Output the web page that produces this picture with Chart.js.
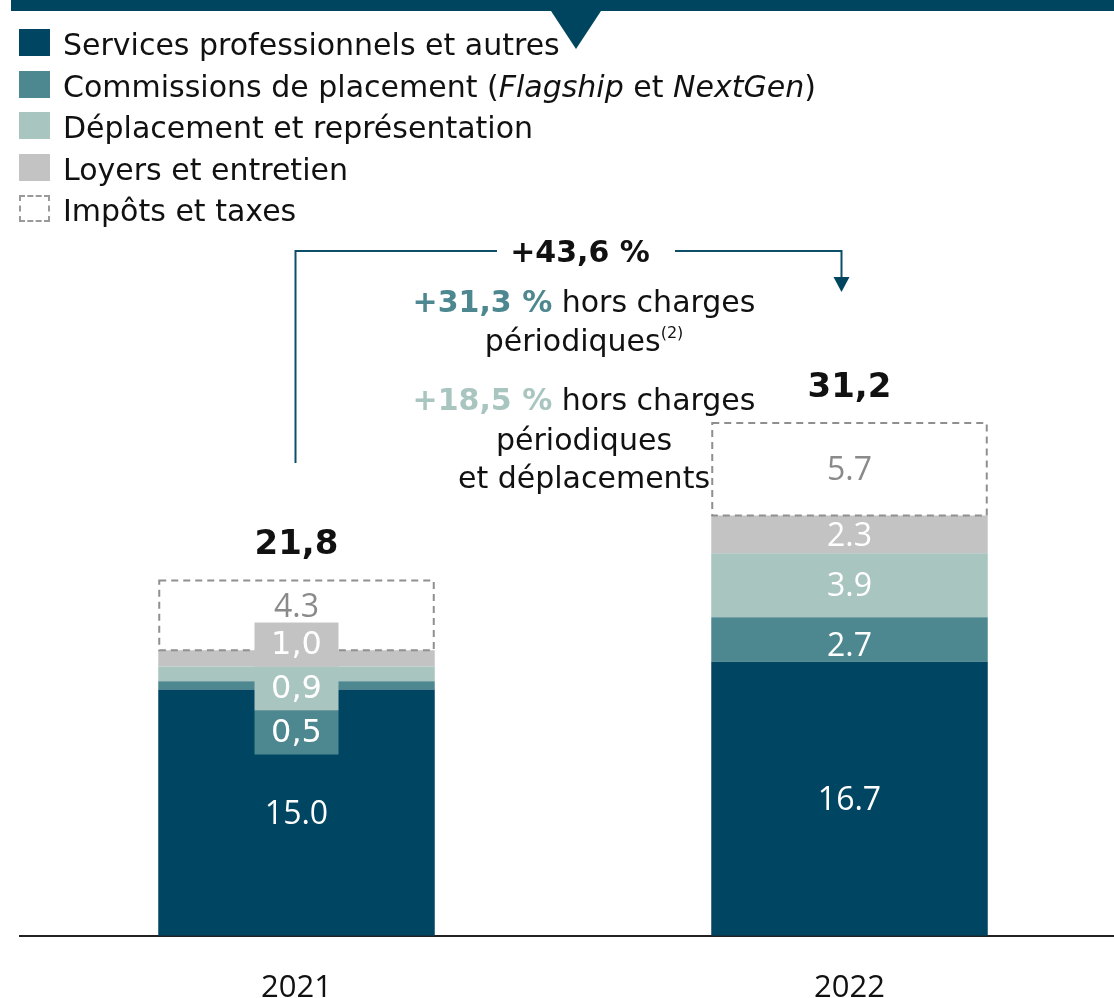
<!DOCTYPE html>
<html lang="fr">
<head>
<meta charset="utf-8">
<script src="https://cdn.jsdelivr.net/npm/chart.js@4.4.1/dist/chart.umd.min.js"></script>
<style>
  html, body { margin: 0; padding: 0; background: #fff; }
  #page { position: relative; width: 1114px; height: 998px; overflow: hidden; font-family: "DejaVu Sans", sans-serif; color: #111; }
  #chart { position: absolute; left: 0; top: 0; }
  .band { position: absolute; left: 11px; top: 0; width: 1103px; height: 11px; background: #00455f; }
  .tri { position: absolute; left: 551px; top: 11px; width: 0; height: 0;
         border-left: 25px solid transparent; border-right: 25px solid transparent; border-top: 38px solid #00455f; }
  .legend { position: absolute; left: 19px; top: 27px; }
  .legend .item { position: relative; height: 41.5px; line-height: 36px; padding-left: 44px; font-size: 30px; white-space: nowrap; }
  .legend .sw { position: absolute; left: 0; top: 2px; width: 31px; height: 27px; box-sizing: border-box; }
  .note { position: absolute; left: 284px; width: 600px; text-align: center; font-size: 30px; line-height: 36px; white-space: nowrap; }
  .note b.c1 { color: #4d878f; }
  .note b.c2 { color: #a9c5c0; }
  .note sup { font-size: 16px; vertical-align: 13px; line-height: 0; }
  .growth { position: absolute; left: 480px; width: 200px; top: 234px; text-align: center; font-size: 30px; font-weight: bold; line-height: 36px; }
</style>
</head>
<body>
<div id="page">
  <canvas id="chart" width="1130" height="1041"></canvas>
  <div class="band"></div>
  <div class="tri"></div>
  <div class="legend" id="legend"></div>
  <div class="growth">+43,6 %</div>
  <div class="note" style="top:284px"><b class="c1">+31,3 %</b> hors charges</div>
  <div class="note" style="top:323px">périodiques<sup>(2)</sup></div>
  <div class="note" style="top:382px"><b class="c2">+18,5 %</b> hors charges</div>
  <div class="note" style="top:422px">périodiques</div>
  <div class="note" style="top:460px">et déplacements</div>
</div>
<script>
const years = ["2021", "2022"];
const services = [15.0, 16.7];
const commissions = [0.5, 2.7];
const deplacement = [0.9, 3.9];
const loyers = [1.0, 2.3];
const impots = [4.3, 5.7];
const totals = [21.8, 31.2];

const seriesNames = [
  "Services professionnels et autres",
  "Commissions de placement (<i>Flagship</i> et <i>NextGen</i>)",
  "Déplacement et représentation",
  "Loyers et entretien",
  "Impôts et taxes",
];
const seriesData = [services, commissions, deplacement, loyers, impots];
const seriesColors = ["#004562", "#4d878f", "#a9c5c0", "#c3c3c3", "rgba(255,255,255,0)"];
const labelColors = ["#fff", "#fff", "#fff", "#fff", "#8a8a8a"];

// legend
const legendEl = document.getElementById("legend");
seriesNames.forEach((name, i) => {
  const item = document.createElement("div");
  item.className = "item";
  const sw = i === 4
    ? '<span class="sw" style="border:2px dashed #9a9a9a"></span>'
    : '<span class="sw" style="background:' + seriesColors[i] + '"></span>';
  item.innerHTML = sw + name;
  legendEl.appendChild(item);
});

const decor = {
  id: "decor",
  afterDatasetsDraw(chart) {
    const ctx = chart.ctx;
    const taxMeta = chart.getDatasetMeta(4);
    ctx.save();

    // dashed outline for taxes
    taxMeta.data.forEach((bar) => {
      ctx.setLineDash([7, 5]);
      ctx.strokeStyle = "#8f8f8f";
      ctx.lineWidth = 2;
      ctx.strokeRect(bar.x - bar.width / 2 + 1, bar.y + 1, bar.width - 2, bar.base - bar.y - 1);
    });
    ctx.setLineDash([]);

    ctx.textAlign = "center";
    ctx.textBaseline = "middle";

    years.forEach((yr, j) => {
      const small = [];
      let calloutTop = null;
      for (let i = 0; i < 4; i++) {
        const bar = chart.getDatasetMeta(i).data[j];
        if (bar.base - bar.y < 30) small.push(i);
      }
      if (small.length) {
        const svcBar = chart.getDatasetMeta(0).data[j];
        let bottom = svcBar.y + 65;
        small.forEach((i) => {
          const top = bottom - 44;
          ctx.fillStyle = seriesColors[i];
          ctx.fillRect(svcBar.x - 42, top, 84, 44);
          ctx.fillStyle = "#fff";
          ctx.font = "32px 'DejaVu Sans'";
          ctx.fillText(seriesData[i][j].toFixed(1).replace(".", ","), svcBar.x, top + 23);
          bottom = top;
        });
        calloutTop = bottom;
      }
      for (let i = 0; i < 5; i++) {
        if (small.includes(i)) continue;
        const bar = chart.getDatasetMeta(i).data[j];
        let y = (bar.y + bar.base) / 2;
        if (i === 4 && calloutTop !== null) y = Math.min(y, calloutTop - 17);
        if (i === 1) y += 5;
        ctx.fillStyle = labelColors[i];
        ctx.font = "32px 'Open Sans'";
        ctx.fillText(seriesData[i][j].toFixed(1), bar.x, y + 2);
      }
      // totals
      const topBar = taxMeta.data[j];
      ctx.fillStyle = "#111";
      ctx.font = "bold 34px 'DejaVu Sans'";
      ctx.fillText(totals[j].toFixed(1).replace(".", ","), topBar.x, topBar.y - 34);
    });

    // growth bracket
    const x0 = taxMeta.data[0].x - 1;
    const x1 = taxMeta.data[1].x - 8;
    ctx.strokeStyle = "#0d4f69";
    ctx.lineWidth = 2;
    ctx.beginPath();
    ctx.moveTo(x0, 463);
    ctx.lineTo(x0, 251);
    ctx.lineTo(497, 251);
    ctx.moveTo(675, 251);
    ctx.lineTo(x1, 251);
    ctx.lineTo(x1, 278);
    ctx.stroke();
    ctx.fillStyle = "#00455f";
    ctx.beginPath();
    ctx.moveTo(x1 - 8, 277);
    ctx.lineTo(x1 + 8, 277);
    ctx.lineTo(x1, 292);
    ctx.closePath();
    ctx.fill();
    ctx.restore();
  },
};

new Chart(document.getElementById("chart"), {
  type: "bar",
  data: {
    labels: years,
    datasets: seriesData.map((d, i) => ({
      label: seriesNames[i],
      data: d,
      backgroundColor: seriesColors[i],
      borderWidth: 0,
      barPercentage: 0.5,
      categoryPercentage: 1,
    })),
  },
  options: {
    responsive: false,
    animation: false,
    layout: { padding: { left: 20, right: 4, top: 0, bottom: 0 } },
    plugins: {
      legend: { display: false },
      tooltip: { enabled: false },
    },
    scales: {
      x: {
        stacked: true,
        grid: { display: false, drawTicks: false },
        border: { display: true, color: "#222", width: 2 },
        ticks: { color: "#111", font: { family: "Open Sans", size: 31 }, padding: 34 },
      },
      y: { stacked: true, display: false, min: 0, max: 57 },
    },
  },
  plugins: [decor],
});
</script>
</body>
</html>
